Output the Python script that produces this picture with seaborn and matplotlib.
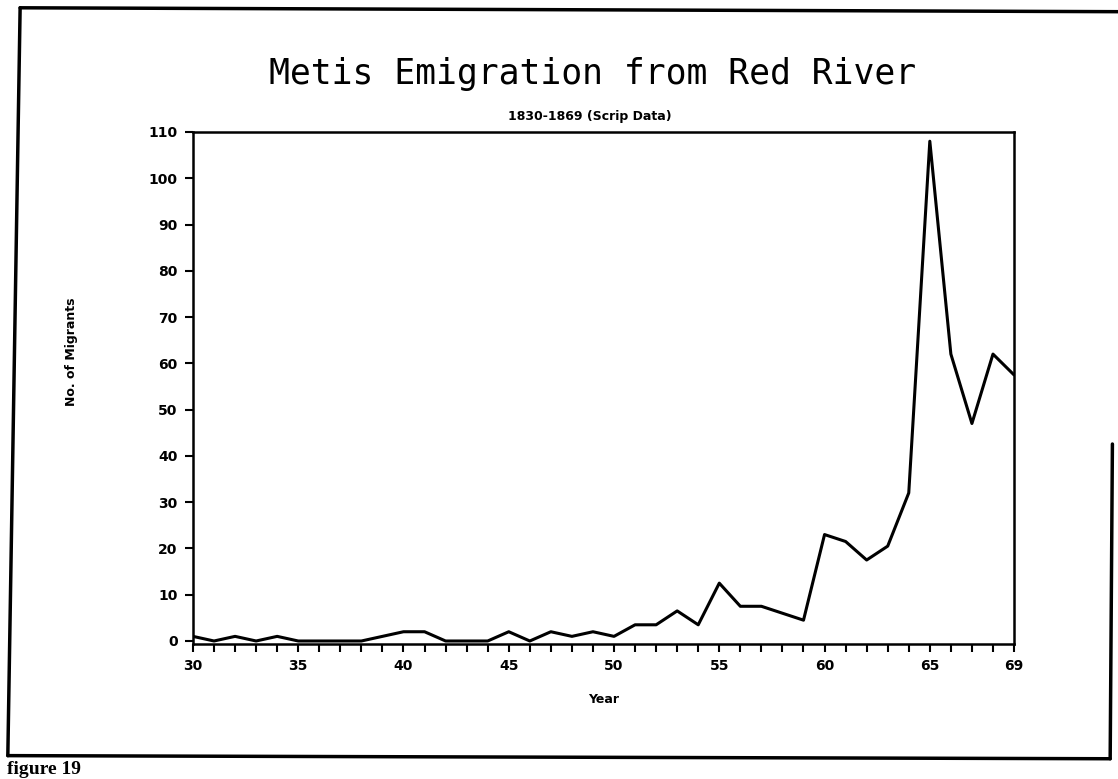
import pandas as pd
import seaborn as sns
import matplotlib.pyplot as plt
from matplotlib.lines import Line2D

# Metis emigration from Red River, scrip data 1830-1869 (years shown as two digits)
years = list(range(30, 70))
migrants = [1, 0, 1, 0, 1, 0, 0, 0, 0, 1,
            2, 2, 0, 0, 0, 2, 0, 2, 1, 2,
            1, 3.5, 3.5, 6.5, 3.5, 12.5, 7.5, 7.5, 6, 4.5,
            23, 21.5, 17.5, 20.5, 32, 108, 62, 47, 62, 57.5]
labelled_years = [30, 35, 40, 45, 50, 55, 60, 65, 69]
y_ticks = list(range(0, 111, 10))

title = "Metis Emigration from Red River"
subtitle = "1830-1869 (Scrip Data)"


sns.set_theme(style="ticks")
plt.rcParams['font.family'] = ['DejaVu Sans']
plt.rcParams['text.color'] = 'black'
plt.rcParams['axes.labelcolor'] = 'black'

fig = plt.figure(figsize=(11.18, 7.79), dpi=100)
ax = fig.add_axes([0.1726, 0.1733, 0.7344, 0.6573])

df = pd.DataFrame({"Year": years, "Migrants": migrants})
sns.lineplot(data=df, x="Year", y="Migrants", ax=ax, color="black", linewidth=2.2)

ax.set_xlim(30, 69)
ax.set_ylim(-0.65, 110)
ax.set_yticks(y_ticks)
ax.set_xticks(years)
ax.set_xticklabels([str(y) if y in labelled_years else "" for y in years])

ax.tick_params(axis="both", direction="out", length=6, width=1.5, colors="black", labelsize=10, pad=5)
plt.setp(ax.get_xticklabels() + ax.get_yticklabels(), fontweight="bold")
for side in ["left", "right", "top", "bottom"]:
    ax.spines[side].set_visible(True)
    ax.spines[side].set_linewidth(1.8)
    ax.spines[side].set_color("black")

ax.set_xlabel("Year", fontsize=9, fontweight="bold", labelpad=14)
ax.set_ylabel("No. of Migrants", fontsize=9, fontweight="bold")
ax.yaxis.set_label_coords(-0.14, 0.57)

fig.text(0.53, 0.892, title, ha="center", va="baseline", fontsize=25,
         family="DejaVu Sans Mono", color="black")
fig.text(0.528, 0.846, subtitle, ha="center", va="baseline", fontsize=9,
         fontweight="bold", color="black")

# page border from the scanned report
border = dict(color="black", linewidth=2.5, transform=fig.transFigure)
fig.add_artist(Line2D([0.018, 1.0], [0.99, 0.985], **border))
fig.add_artist(Line2D([0.018, 0.007], [0.99, 0.03], **border))
fig.add_artist(Line2D([0.007, 0.993], [0.03, 0.026], **border))
fig.add_artist(Line2D([0.995, 0.993], [0.43, 0.026], **border))

fig.text(0.006, 0.006, "figure 19", ha="left", va="baseline", fontsize=14,
         fontweight="bold", family="Liberation Serif", color="black")

fig.savefig("out.png", dpi=100)
